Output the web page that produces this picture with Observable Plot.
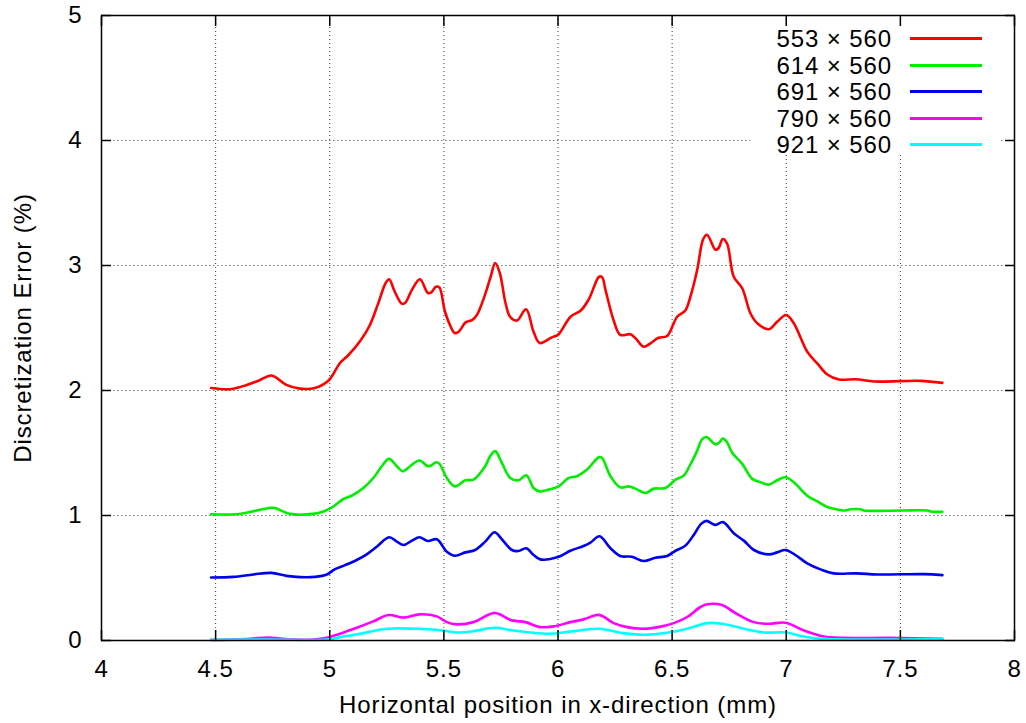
<!DOCTYPE html>
<html>
<head>
<meta charset="utf-8">
<script src="https://cdn.jsdelivr.net/npm/d3@7"></script>
<script src="https://cdn.jsdelivr.net/npm/@observablehq/plot@0.6"></script>
<style>
  body { margin: 0; background: #fff; }
  #wrap { position: relative; width: 1026px; height: 723px; font-family: "Liberation Sans", Arial, sans-serif; }
  #legend { position: absolute; left: 750px; top: 26px; width: 250px; height: 128px; background: #fff; }
  .row { position: absolute; left: 0; width: 250px; height: 26px; }
  .row span { position: absolute; right: 108px; top: 0; font-size: 24px; letter-spacing: 0.9px; line-height: 26px; color: #000; white-space: nowrap; }
  .row i { position: absolute; left: 160px; width: 72px; top: 11px; height: 3px; }
</style>
</head>
<body>
<div id="wrap"></div>
<script>
// ---- data ----
const seriesNames = ["553 \u00d7 560", "614 \u00d7 560", "691 \u00d7 560", "790 \u00d7 560", "921 \u00d7 560"];
const seriesColors = ["#ff0000", "#00ee00", "#0000ee", "#ff00ff", "#00ffff"];

const s553 = [[4.48,2.02],[4.56,2.01],[4.62,2.035],[4.69,2.08],[4.745,2.12],[4.81,2.045],[4.87,2.015],[4.935,2.02],[4.995,2.08],[5.045,2.22],[5.08,2.28],[5.135,2.40],[5.175,2.52],[5.21,2.685],[5.245,2.86],[5.26,2.89],[5.285,2.79],[5.315,2.695],[5.33,2.70],[5.36,2.805],[5.395,2.89],[5.43,2.78],[5.445,2.785],[5.465,2.83],[5.48,2.825],[5.505,2.63],[5.53,2.51],[5.547,2.46],[5.565,2.47],[5.595,2.545],[5.625,2.565],[5.645,2.605],[5.68,2.765],[5.705,2.91],[5.725,3.02],[5.745,2.94],[5.77,2.70],[5.79,2.59],[5.82,2.56],[5.86,2.65],[5.893,2.47],[5.92,2.38],[5.973,2.425],[6.0,2.445],[6.055,2.59],[6.1,2.64],[6.135,2.73],[6.18,2.91],[6.193,2.907],[6.208,2.805],[6.244,2.56],[6.273,2.445],[6.317,2.45],[6.34,2.417],[6.375,2.35],[6.405,2.377],[6.44,2.422],[6.478,2.436],[6.522,2.59],[6.558,2.64],[6.58,2.75],[6.61,2.966],[6.636,3.21],[6.653,3.246],[6.69,3.126],[6.704,3.14],[6.722,3.212],[6.741,3.174],[6.77,2.91],[6.807,2.818],[6.843,2.618],[6.873,2.538],[6.924,2.49],[6.96,2.55],[7.0,2.604],[7.033,2.538],[7.092,2.31],[7.136,2.217],[7.18,2.128],[7.231,2.088],[7.304,2.09],[7.384,2.072],[7.5,2.075],[7.59,2.077],[7.684,2.061]];

const s614 = [[4.48,1.01],[4.59,1.01],[4.68,1.04],[4.74,1.062],[4.76,1.06],[4.826,1.013],[4.928,1.013],[4.972,1.032],[5.016,1.072],[5.06,1.132],[5.096,1.158],[5.147,1.22],[5.191,1.30],[5.228,1.394],[5.26,1.453],[5.294,1.394],[5.32,1.354],[5.352,1.394],[5.393,1.44],[5.43,1.394],[5.444,1.40],[5.466,1.426],[5.48,1.415],[5.513,1.30],[5.549,1.233],[5.594,1.282],[5.63,1.287],[5.681,1.394],[5.703,1.475],[5.725,1.515],[5.754,1.421],[5.791,1.30],[5.827,1.282],[5.861,1.322],[5.893,1.22],[5.92,1.193],[5.959,1.207],[6.003,1.233],[6.047,1.30],[6.083,1.314],[6.127,1.368],[6.18,1.467],[6.193,1.461],[6.23,1.314],[6.273,1.225],[6.31,1.233],[6.339,1.215],[6.383,1.18],[6.42,1.215],[6.471,1.22],[6.515,1.287],[6.551,1.319],[6.58,1.408],[6.609,1.515],[6.631,1.609],[6.65,1.628],[6.69,1.569],[6.704,1.58],[6.723,1.615],[6.741,1.585],[6.763,1.502],[6.807,1.413],[6.851,1.293],[6.887,1.266],[6.924,1.247],[6.96,1.282],[6.997,1.306],[7.033,1.266],[7.092,1.158],[7.136,1.113],[7.18,1.068],[7.231,1.046],[7.253,1.04],[7.282,1.05],[7.326,1.05],[7.34,1.04],[7.5,1.04],[7.618,1.04],[7.64,1.03],[7.684,1.03]];

const s691 = [[4.48,0.504],[4.577,0.509],[4.665,0.528],[4.743,0.541],[4.811,0.517],[4.87,0.507],[4.936,0.509],[4.987,0.528],[5.023,0.571],[5.067,0.603],[5.118,0.644],[5.162,0.689],[5.206,0.75],[5.26,0.826],[5.294,0.791],[5.323,0.764],[5.36,0.799],[5.393,0.826],[5.43,0.796],[5.469,0.81],[5.513,0.71],[5.549,0.678],[5.594,0.705],[5.637,0.724],[5.681,0.791],[5.722,0.866],[5.754,0.81],[5.798,0.724],[5.827,0.716],[5.861,0.738],[5.893,0.684],[5.922,0.649],[6.003,0.67],[6.054,0.718],[6.112,0.756],[6.142,0.783],[6.182,0.834],[6.23,0.738],[6.273,0.676],[6.324,0.67],[6.375,0.636],[6.427,0.662],[6.478,0.676],[6.515,0.718],[6.558,0.759],[6.595,0.845],[6.627,0.933],[6.65,0.957],[6.69,0.925],[6.723,0.947],[6.77,0.858],[6.814,0.799],[6.858,0.724],[6.924,0.689],[6.96,0.705],[6.997,0.724],[7.04,0.684],[7.092,0.617],[7.15,0.569],[7.208,0.537],[7.31,0.537],[7.4,0.528],[7.603,0.531],[7.684,0.523]];

const s790 = [[4.48,0.005],[4.65,0.013],[4.73,0.024],[4.811,0.01],[4.928,0.008],[4.987,0.021],[5.045,0.054],[5.118,0.102],[5.191,0.153],[5.257,0.204],[5.323,0.183],[5.393,0.209],[5.469,0.193],[5.513,0.147],[5.557,0.129],[5.63,0.147],[5.722,0.22],[5.798,0.161],[5.857,0.147],[5.922,0.107],[5.981,0.113],[6.054,0.147],[6.112,0.169],[6.18,0.205],[6.244,0.139],[6.303,0.107],[6.375,0.094],[6.456,0.113],[6.507,0.139],[6.566,0.188],[6.624,0.268],[6.653,0.29],[6.719,0.284],[6.77,0.228],[6.858,0.147],[6.924,0.134],[6.997,0.142],[7.078,0.08],[7.165,0.032],[7.253,0.021],[7.458,0.021],[7.684,0.013]];

const s921 = [[4.48,0.005],[4.72,0.008],[4.987,0.008],[5.045,0.027],[5.133,0.054],[5.25,0.094],[5.382,0.094],[5.469,0.086],[5.557,0.064],[5.63,0.075],[5.722,0.102],[5.805,0.08],[5.952,0.054],[6.069,0.075],[6.18,0.094],[6.288,0.059],[6.375,0.046],[6.478,0.062],[6.566,0.094],[6.653,0.139],[6.719,0.134],[6.814,0.094],[6.902,0.064],[6.997,0.064],[7.078,0.032],[7.165,0.013],[7.684,0.011]];

const xTicks = [4, 4.5, 5, 5.5, 6, 6.5, 7, 7.5, 8];
const yTicks = [0, 1, 2, 3, 4, 5];
const xLabel = "Horizontal position in x-direction (mm)";
const yLabel = "Discretization Error (%)";

// ---- build table ----
const allSeries = [s553, s614, s691, s790, s921];
const rows = allSeries.flatMap((s, i) => s.map(([x, y]) => ({x, y, series: seriesNames[i]})));

const blank = () => "";
const plain = (d) => String(d);
const chart = Plot.plot({
  width: 1026,
  height: 723,
  marginLeft: 101,
  marginRight: 12,
  marginTop: 15,
  marginBottom: 83,
  style: {fontFamily: "'Liberation Sans', Arial, sans-serif", fontSize: "24px", letterSpacing: "0.9px", background: "#fff", color: "#000"},
  x: {domain: [4, 8]},
  y: {domain: [0, 5]},
  color: {domain: seriesNames, range: seriesColors},
  marks: [
    Plot.gridX(xTicks.slice(1, -1), {stroke: "#222", strokeOpacity: 0.9, strokeDasharray: "1,3", strokeWidth: 1}),
    Plot.gridY(yTicks.slice(1, -1), {stroke: "#666", strokeOpacity: 0.9, strokeDasharray: "1.5,2.5", strokeWidth: 1}),
    Plot.line(rows, {x: "x", y: "y", z: "series", stroke: "series", strokeWidth: 2.6, curve: "catmull-rom"}),
    Plot.frame({stroke: "#000", strokeWidth: 1.5}),
    Plot.axisX(xTicks, {anchor: "bottom", tickSize: 0, tickPadding: 19, tickFormat: plain, label: xLabel, labelAnchor: "center", labelArrow: "none", labelOffset: 72}),
    Plot.axisY(yTicks, {anchor: "left", tickSize: 0, tickPadding: 19, tickFormat: plain, label: yLabel, labelAnchor: "center", labelArrow: "none", labelOffset: 88}),
    Plot.axisX(xTicks, {anchor: "bottom", tickSize: -10, tickFormat: blank, label: null, strokeWidth: 1.5}),
    Plot.axisX(xTicks, {anchor: "top", tickSize: -10, tickFormat: blank, label: null, strokeWidth: 1.5}),
    Plot.axisY(yTicks, {anchor: "left", tickSize: -10, tickFormat: blank, label: null, strokeWidth: 1.5}),
    Plot.axisY(yTicks, {anchor: "right", tickSize: -10, tickFormat: blank, label: null, strokeWidth: 1.5})
  ]
});

const wrap = document.getElementById("wrap");
wrap.appendChild(chart);

// legend (HTML overlay, white box like gnuplot key)
const legend = document.createElement("div");
legend.id = "legend";
seriesNames.forEach((name, i) => {
  const r = document.createElement("div");
  r.className = "row";
  r.style.top = (i * 26.6) + "px";
  const t = document.createElement("span");
  t.textContent = name;
  const l = document.createElement("i");
  l.style.background = seriesColors[i];
  r.appendChild(t);
  r.appendChild(l);
  legend.appendChild(r);
});
wrap.appendChild(legend);
</script>
</body>
</html>
